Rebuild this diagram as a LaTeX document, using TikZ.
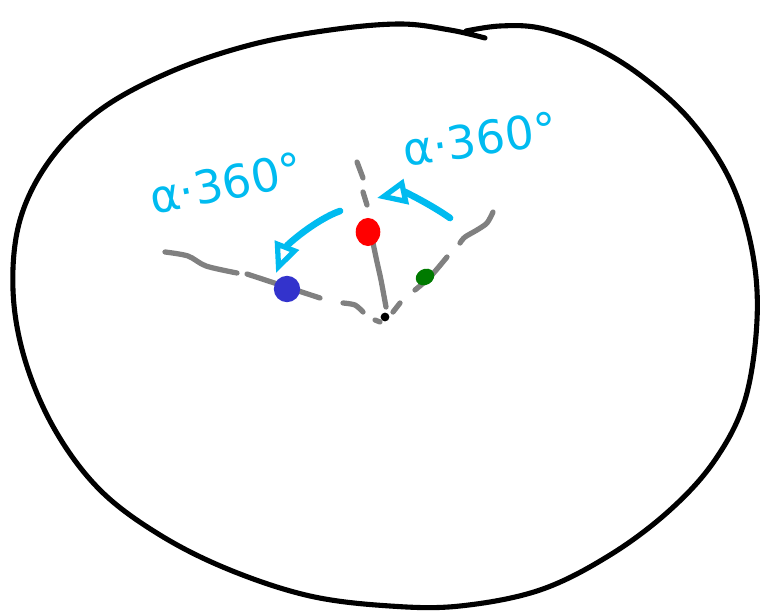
\documentclass[tikz,border=0pt]{standalone}
\usepackage{fontspec}
\newfontfamily\handfont{DejaVu Sans}
\usetikzlibrary{arrows.meta,shapes.geometric}
\definecolor{skyline}{RGB}{0,187,240}
\definecolor{dotblue}{RGB}{51,51,204}
\definecolor{dotgreen}{RGB}{0,122,0}
\tikzset{
    ray/.style={gray, line width=3pt, line cap=round, line join=round},
    sweep/.style={skyline, line width=3.8pt, line cap=round,
        -{Triangle[open, length=6mm, width=5mm, line width=3pt]}},
    angletext/.style={skyline, font=\handfont\fontsize{26}{30}\selectfont}
}
\begin{document}
\begin{tikzpicture}[x=0.02cm, y=-0.02cm]
    \useasboundingbox (0,0) rectangle (760,611);
    % outer loop
    \draw[black, line width=2.9pt, line cap=round] plot[smooth, tension=0.6] coordinates {
        (466,31) (500,26) (540,28) (590,45) (640,75) (690,120) (730,180)
        (752,250) (757,320) (745,400) (715,460) (670,510) (610,555)
        (540,590) (460,606) (390,606) (310,596) (230,570) (160,535)
        (100,490) (55,430) (25,360) (13,290) (20,220) (50,160) (100,110)
        (170,72) (250,45) (330,30) (400,24) (450,30) (485,38)};
    % center and rays
    \node[circle, fill=black, inner sep=0pt, minimum size=5pt] (origin) at (385,317) {};
    \begin{scope}
        \draw[ray] plot[smooth] coordinates {(165,252) (188,256) (206,266) (237,273)};
        \draw[ray] (247,274) -- (320,298);
        \draw[ray] plot[smooth] coordinates {(343,303) (355,305) (363,312)};
        \draw[ray] (375,320) -- (380,322);
        \draw[ray] (357,162) -- (363,178);
        \draw[ray] (363,192) -- (367,205);
        \draw[ray] plot[smooth] coordinates {(373,243) (377,262) (381,280) (386,307)};
        \draw[ray] (393,312) -- (400,303);
        \draw[ray] plot[smooth] coordinates {(415,290) (430,277) (447,257)};
        \draw[ray] plot[smooth] coordinates {(460,243) (465,237) (477,230) (487,223) (493,212)};
    \end{scope}
    % points
    \node[circle, fill=dotblue, inner sep=0pt, minimum size=15pt] (bluept) at (287,289) {};
    \node[ellipse, fill=red, inner sep=0pt, minimum width=14pt, minimum height=16pt] (redpt) at (368,232) {};
    \node[ellipse, fill=dotgreen, inner sep=0pt, minimum width=11pt, minimum height=9pt, rotate=30] (greenpt) at (425,277) {};
    % sweeps
    \coordinate (leftstart) at (340,211);
    \coordinate (lefttip) at (276,273);
    \coordinate (rightstart) at (450,218);
    \coordinate (righttip) at (377,198);
    \draw[sweep] (leftstart) .. controls (315,220) and (287,245) .. (lefttip);
    \draw[sweep] (rightstart) .. controls (430,204) and (405,192) .. (righttip);
    \node[angletext, rotate=11] (leftlabel) at (226,183) {α·360°};
    \node[angletext, rotate=8] (rightlabel) at (480,139) {α·360°};
\end{tikzpicture}
\end{document}
